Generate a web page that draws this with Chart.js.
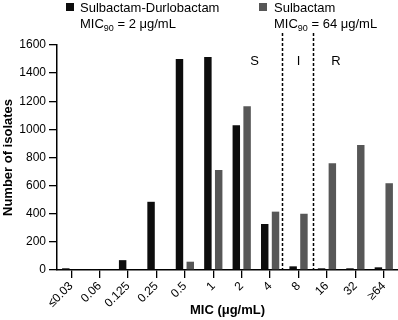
<!DOCTYPE html>
<html>
<head>
<meta charset="utf-8">
<script src="https://cdn.jsdelivr.net/npm/chart.js@4/dist/chart.umd.min.js"></script>
<style>
  html, body { margin: 0; padding: 0; background: #fff; }
  #wrap { position: relative; width: 398px; height: 320px; font-family: "Liberation Sans", Arial, sans-serif; color: #000; }
  canvas { position: absolute; left: 0; top: 0; }
  .leg { position: absolute; font-size: 13px; line-height: 16px; white-space: nowrap; }
  .sw { position: absolute; width: 8px; height: 8px; }
  sub { font-size: 9px; vertical-align: -3px; line-height: 0; }
</style>
</head>
<body>
<div id="wrap">
  <canvas id="c" width="398" height="320"></canvas>
  <div class="sw" style="left:66px;top:3px;background:#0d0d0d"></div>
  <div class="leg" style="left:80px;top:0px">Sulbactam-Durlobactam<br>MIC<sub>90</sub> = 2 μg/mL</div>
  <div class="sw" style="left:259px;top:3px;background:#575757"></div>
  <div class="leg" style="left:274px;top:0px">Sulbactam<br>MIC<sub>90</sub> = 64 μg/mL</div>
</div>
<script>
const categories = ['≤0.03', '0.06', '0.125', '0.25', '0.5', '1', '2', '4', '8', '16', '32', '≥64'];
const sulbactamDurlobactam = [12, 7, 70, 485, 1500, 1515, 1030, 327, 26, 12, 12, 19];
const sulbactam = [0, 0, 0, 0, 59, 711, 1164, 415, 400, 759, 889, 617];
const yTicks = [0, 200, 400, 600, 800, 1000, 1200, 1400, 1600];

// breakpoint annotations (category-index positions)
const breakpointPositions = [7.43, 8.5];
const breakpointTopValue = 1685;
const zoneLabels = ['S', 'I', 'R'];
const zoneLabelPositions = [6.45, 8, 9.32];
const zoneLabelValue = 1480;

const annot = {
  id: 'annot',
  afterDatasetsDraw(chart) {
    const ctx = chart.ctx, x = chart.scales.x, y = chart.scales.y;
    ctx.save();
    ctx.strokeStyle = '#000';
    ctx.lineWidth = 1.5;
    ctx.setLineDash([3, 2]);
    breakpointPositions.forEach(p => {
      const px = Math.round(x.getPixelForValue(p)) + 0.5;
      ctx.beginPath();
      ctx.moveTo(px, y.getPixelForValue(breakpointTopValue));
      ctx.lineTo(px, y.getPixelForValue(0));
      ctx.stroke();
    });
    ctx.setLineDash([]);
    ctx.fillStyle = '#000';
    ctx.font = '13px "Liberation Sans", Arial, sans-serif';
    ctx.textAlign = 'center';
    ctx.textBaseline = 'middle';
    zoneLabels.forEach((t, i) => {
      ctx.fillText(t, x.getPixelForValue(zoneLabelPositions[i]), y.getPixelForValue(zoneLabelValue));
    });
    ctx.restore();
  }
};

new Chart(document.getElementById('c'), {
  type: 'bar',
  data: {
    labels: categories,
    datasets: [
      { label: 'Sulbactam-Durlobactam', data: sulbactamDurlobactam, backgroundColor: '#0d0d0d' },
      { label: 'Sulbactam', data: sulbactam, backgroundColor: '#575757' }
    ]
  },
  options: {
    responsive: false,
    animation: false,
    devicePixelRatio: 1,
    layout: { padding: { top: 45, right: 0, left: 0, bottom: 0 } },
    datasets: { bar: { categoryPercentage: 0.76, barPercentage: 0.69 } },
    plugins: { legend: { display: false }, tooltip: { enabled: false } },
    scales: {
      x: {
        afterFit(s) { s.height = 50; },
        grid: { offset: false, drawOnChartArea: false, drawTicks: true, tickLength: 8, color: '#000', lineWidth: 1.3 },
        border: { display: true, color: '#000', width: 1.5 },
        ticks: { color: '#000', font: { size: 12, family: '"Liberation Sans", Arial, sans-serif' }, minRotation: 45, maxRotation: 45, padding: 1, autoSkip: false },
        title: { display: true, text: 'MIC (μg/mL)', color: '#000', font: { size: 13, weight: 'bold', family: '"Liberation Sans", Arial, sans-serif' }, padding: { top: 0, bottom: 2 } }
      },
      y: {
        min: 0, max: 1600,
        afterFit(s) { s.width = 57; },
        afterBuildTicks(s) { s.ticks = yTicks.map(v => ({ value: v })); },
        grid: { drawOnChartArea: false, drawTicks: true, tickLength: 8, color: '#000', lineWidth: 1.3 },
        border: { display: true, color: '#000', width: 1.5 },
        ticks: { color: '#000', font: { size: 12, family: '"Liberation Sans", Arial, sans-serif' }, padding: 3, callback: v => String(v) },
        title: { display: true, text: 'Number of isolates', color: '#000', font: { size: 13, weight: 'bold', family: '"Liberation Sans", Arial, sans-serif' }, padding: { top: 1, bottom: 0 } }
      }
    }
  },
  plugins: [annot]
});
</script>
</body>
</html>
